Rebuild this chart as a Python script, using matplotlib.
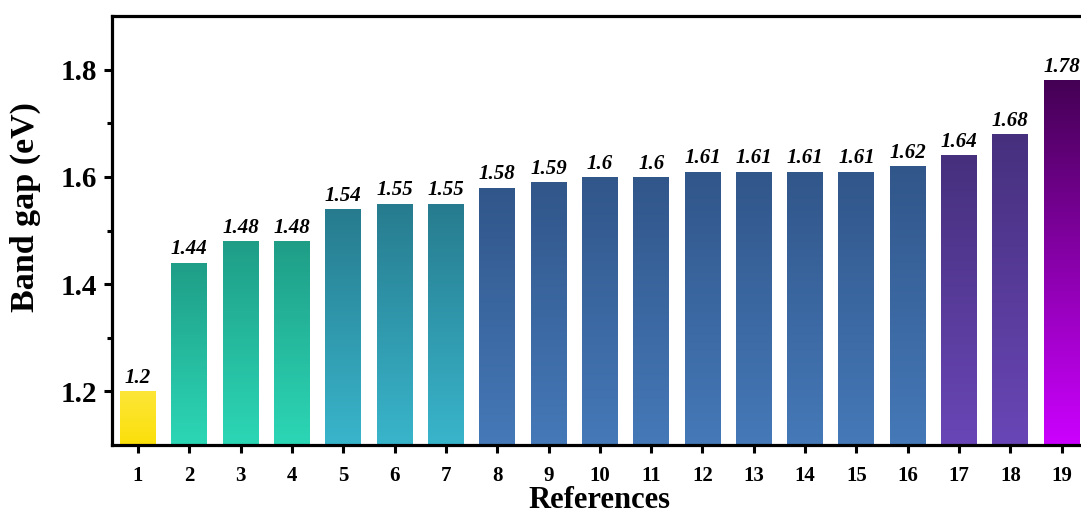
import matplotlib
matplotlib.use("Agg")
import matplotlib.pyplot as plt
import numpy as np
from matplotlib.colors import LinearSegmentedColormap
from matplotlib.patches import Rectangle

references = list(range(1, 20))
band_gaps = [1.2, 1.44, 1.48, 1.48, 1.54, 1.55, 1.55, 1.58, 1.59, 1.6,
             1.6, 1.61, 1.61, 1.61, 1.61, 1.62, 1.64, 1.68, 1.78]
bar_labels = ["1.2", "1.44", "1.48", "1.48", "1.54", "1.55", "1.55", "1.58", "1.59", "1.6",
              "1.6", "1.61", "1.61", "1.61", "1.61", "1.62", "1.64", "1.68", "1.78"]

# gradient colours (top, bottom) for each bar
grp_yellow = ("#fde638", "#fbe00a")
grp_green = ("#1f9d87", "#2cd7b6")
grp_teal = ("#277b8e", "#39b5cb")
grp_blue = ("#31568a", "#4579b8")
grp_purple = ("#46307d", "#6946b6")
grp_magenta = ("#440154", "#cc00ff")
bar_colors = [grp_yellow] + [grp_green] * 3 + [grp_teal] * 3 + [grp_blue] * 9 + [grp_purple] * 2 + [grp_magenta]

plt.rcParams['font.family'] = ['Liberation Serif', 'DejaVu Serif']
plt.rcParams['font.weight'] = 'bold'

fig = plt.figure(figsize=(10.81, 5.16), dpi=100)
ax = fig.add_axes([112.4 / 1081, 71 / 516, (1087.3 - 112.4) / 1081, (445 - 16) / 516])

ymin, ymax = 1.1, 1.9
ax.set_xlim(0.5, 19.5)
ax.set_ylim(ymin, ymax)

width = 0.7
grad = np.linspace(0, 1, 256).reshape(-1, 1)
for x, h, lbl, (ctop, cbot) in zip(references, band_gaps, bar_labels, bar_colors):
    cmap = LinearSegmentedColormap.from_list("g", [cbot, ctop])
    im = ax.imshow(grad, cmap=cmap, origin='lower', aspect='auto',
                   extent=[x - width / 2, x + width / 2, ymin, h], zorder=2,
                   interpolation='bilinear')
    rect = Rectangle((x - width / 2, ymin), width, h - ymin, transform=ax.transData,
                     facecolor='none', edgecolor='none')
    ax.add_patch(rect)
    im.set_clip_path(rect)
    ax.text(x, h + 0.006, lbl, ha='center', va='bottom',
            fontsize=15, fontstyle='italic', fontweight='bold', zorder=3)

ax.set_xlim(0.5, 19.5)
ax.set_ylim(ymin, ymax)
ax.set_xticks(references)
ax.set_xticklabels([str(r) for r in references], fontsize=15, fontweight='bold')
ax.set_yticks([1.2, 1.4, 1.6, 1.8])
ax.set_yticklabels(["1.2", "1.4", "1.6", "1.8"], fontsize=21, fontweight='bold')
ax.set_yticks([1.3, 1.5, 1.7], minor=True)

for s in ax.spines.values():
    s.set_linewidth(2.3)
ax.tick_params(axis='both', which='major', direction='out', length=6, width=2.2)
ax.tick_params(axis='y', which='minor', direction='out', length=3.5, width=2.2)
ax.tick_params(axis='x', pad=9)
ax.tick_params(axis='y', pad=5)

ax.set_xlabel("References", fontsize=22, fontweight='bold', labelpad=0)
ax.set_ylabel("Band gap (eV)", fontsize=24.5, fontweight='bold')
ax.yaxis.set_label_coords(-0.073, 0.555)

fig.savefig("out.png", dpi=100)
